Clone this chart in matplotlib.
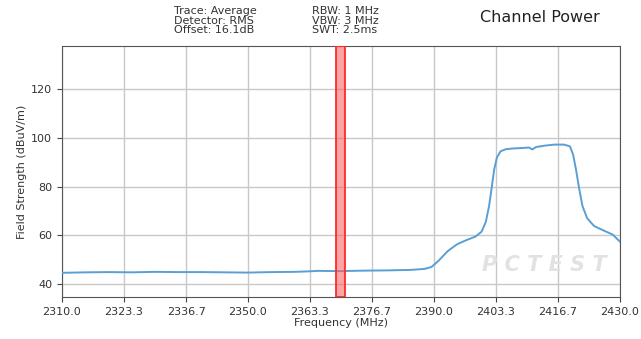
import matplotlib
matplotlib.use("Agg")
import matplotlib.pyplot as plt

freq = [2310, 2315, 2320, 2325, 2330, 2335, 2340, 2345, 2350, 2355, 2360, 2363,
        2365, 2370, 2375, 2380, 2385, 2388, 2389.5, 2391, 2393, 2395, 2397, 2399,
        2400.3, 2401.2, 2401.9, 2402.5, 2403.0, 2403.6, 2404.4, 2405.5, 2407, 2409, 2410.5,
        2411.2, 2412, 2414, 2416, 2418, 2419.3, 2420, 2420.6, 2421.3, 2422, 2423,
        2424.5, 2426.5, 2428.5, 2430]
level = [44.6, 44.8, 44.9, 44.8, 45.0, 44.9, 44.9, 44.8, 44.7, 44.9, 45.0, 45.2,
         45.4, 45.3, 45.5, 45.6, 45.8, 46.2, 47.0, 49.5, 53.5, 56.3, 58.0, 59.5,
         61.5, 65.5, 72.0, 80.0, 87.0, 92.0, 94.5, 95.3, 95.6, 95.8, 96.0,
         95.2, 96.2, 96.8, 97.2, 97.2, 96.5, 93.0, 87.0, 79.0, 72.0, 67.0,
         63.8, 62.0, 60.3, 57.5]
band = [2369.0, 2370.8]
xticks = [2310.0, 2323.3, 2336.7, 2350.0, 2363.3, 2376.7, 2390.0, 2403.3, 2416.7, 2430.0]
yticks = [40, 60, 80, 100, 120]

fig = plt.figure(figsize=(6.41, 3.39), dpi=100)
ax = fig.add_axes([0.0967, 0.124, 0.870, 0.740])
ax.plot(freq, level, color="#5a9fd4", lw=1.4, zorder=3)
ax.axvspan(band[0], band[1], facecolor=(1, 0.35, 0.35, 0.55), edgecolor="#ff2a2a",
           lw=1.3, zorder=4)
ax.set_xlim(2310, 2430)
ax.set_ylim(34.7, 137.6)
ax.set_xticks(xticks)
ax.set_xticklabels([f"{t:.1f}" for t in xticks])
ax.set_yticks(yticks)
ax.tick_params(labelsize=8, color="#444444", labelcolor="#333333")
ax.grid(True, color="#c8c8c8", lw=1)
for s in ax.spines.values():
    s.set_color("#555555")
ax.set_xlabel("Frequency (MHz)", fontsize=8, color="#333333", labelpad=1)
ax.set_ylabel("Field Strength (dBuV/m)", fontsize=8, color="#333333", labelpad=3)

fig.text(174/641, 1 - 6/339, "Trace: Average\nDetector: RMS\nOffset: 16.1dB",
         fontsize=8, va="top", ha="left", color="#333333", linespacing=0.95)
fig.text(312/641, 1 - 6/339, "RBW: 1 MHz\nVBW: 3 MHz\nSWT: 2.5ms",
         fontsize=8, va="top", ha="left", color="#333333", linespacing=0.95)
fig.text(540/641, 1 - 18/339, "Channel Power", fontsize=11.5, ha="center", va="center",
         color="#222222")
ax.text(607/641 * 641 / 558 - 62/558, 0.128, "P C T E S T", transform=ax.transAxes,
        fontsize=15, fontstyle="italic", fontweight="bold", color="#e2e2e2",
        ha="right", va="center", zorder=2)

fig.savefig("out.png", dpi=100)
